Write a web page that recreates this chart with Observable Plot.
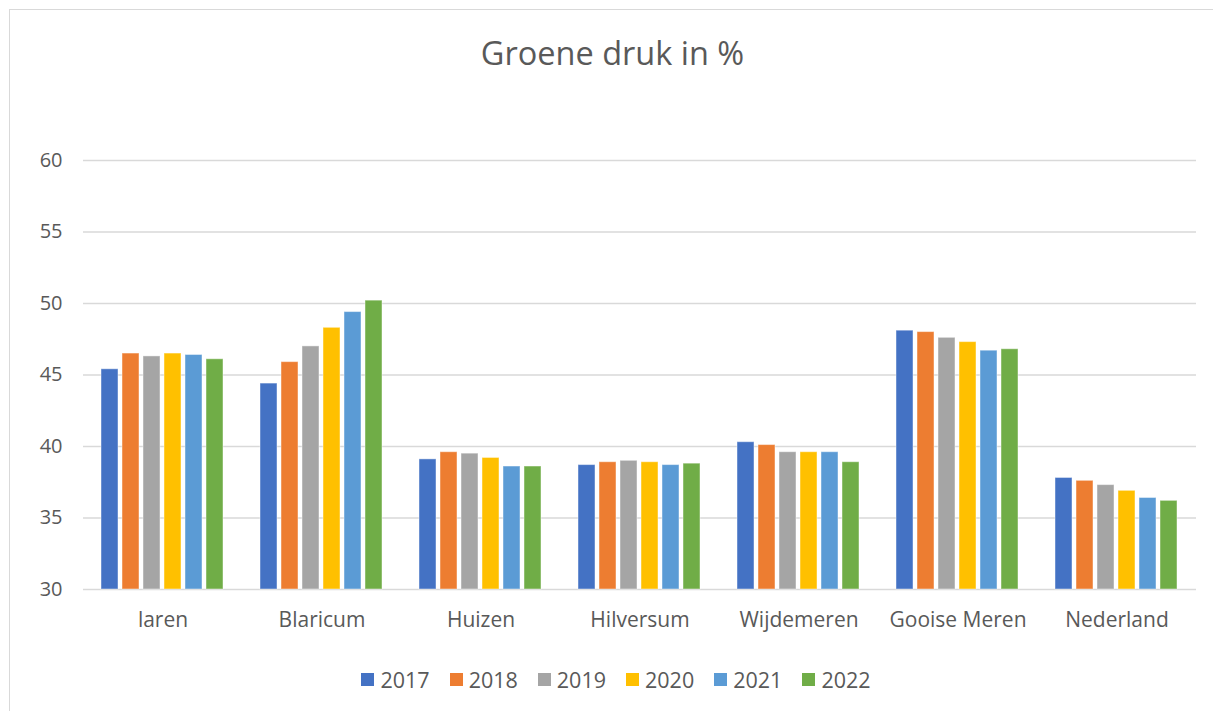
<!DOCTYPE html>
<html>
<head>
<meta charset="utf-8">
<script src="https://cdn.jsdelivr.net/npm/d3@7"></script>
<script src="https://cdn.jsdelivr.net/npm/@observablehq/plot@0.6"></script>
<style>
  html, body { margin: 0; padding: 0; background: #fff; }
  body { width: 1213px; height: 711px; position: relative; overflow: hidden; font-family: "Open Sans", sans-serif; color: #595959; }
  #frame { position: absolute; left: 9px; top: 9px; width: 1210px; height: 710px; border: 1px solid #d9d9d9; box-sizing: border-box; }
  #title { position: absolute; left: 0; width: 1225px; top: 30px; text-align: center; font-size: 32.5px; color: #595959; }
  #chart { position: absolute; left: 0; top: 120px; }
  #legend { position: absolute; left: 0; width: 1232px; top: 665px; display: flex; justify-content: center; gap: 20px; font-size: 21.5px; color: #595959; }
  .item { display: flex; align-items: center; gap: 6px; }
  .sw { width: 13px; height: 13px; display: inline-block; }
</style>
</head>
<body>
<div id="frame"></div>
<div id="title">Groene druk in %</div>
<div id="chart"></div>
<div id="legend"></div>
<script>
const categories = ["laren", "Blaricum", "Huizen", "Hilversum", "Wijdemeren", "Gooise Meren", "Nederland"];
const years = ["2017", "2018", "2019", "2020", "2021", "2022"];
const colors = ["#4472C4", "#ED7D31", "#A5A5A5", "#FFC000", "#5B9BD5", "#70AD47"];
const v2017 = [45.4, 44.4, 39.1, 38.7, 40.3, 48.1, 37.8];
const v2018 = [46.5, 45.9, 39.6, 38.9, 40.1, 48.0, 37.6];
const v2019 = [46.3, 47.0, 39.5, 39.0, 39.6, 47.6, 37.3];
const v2020 = [46.5, 48.3, 39.2, 38.9, 39.6, 47.3, 36.9];
const v2021 = [46.4, 49.4, 38.6, 38.7, 39.6, 46.7, 36.4];
const v2022 = [46.1, 50.2, 38.6, 38.8, 38.9, 46.8, 36.2];
const yTicks = [30, 35, 40, 45, 50, 55, 60];

const series = [v2017, v2018, v2019, v2020, v2021, v2022];
const data = [];
categories.forEach((c, i) => {
  years.forEach((y, j) => data.push({cat: c, year: y, value: series[j][i]}));
});

const chart = Plot.plot({
  width: 1213,
  height: 540,
  marginLeft: 82,
  marginRight: 16,
  marginTop: 40,
  marginBottom: 71,
  style: {fontFamily: "'Open Sans', sans-serif", fontSize: "20px", color: "#595959", background: "transparent"},
  fx: {domain: categories, padding: 0, label: null},
  x: {domain: years, paddingInner: 0.19, paddingOuter: 0.878, axis: null},
  y: {domain: [30, 60], label: null},
  color: {domain: years, range: colors},
  marks: [
    Plot.ruleY(yTicks, {stroke: "#d9d9d9", strokeWidth: 1.5}),
    Plot.axisY(yTicks, {tickSize: 0, tickPadding: 21, label: null, fontSize: 20}),
    Plot.barY(data, {fx: "cat", x: "year", y1: 30, y2: "value", fill: "year", stroke: "white", strokeOpacity: 0.45, strokeWidth: 1}),
    Plot.axisFx({anchor: "bottom", tickSize: 0, tickPadding: 23, label: null, fontSize: 21})
  ]
});
document.getElementById("chart").appendChild(chart);

const legend = document.getElementById("legend");
years.forEach((y, i) => {
  const it = document.createElement("div");
  it.className = "item";
  const sw = document.createElement("span");
  sw.className = "sw";
  sw.style.background = colors[i];
  const t = document.createElement("span");
  t.textContent = y;
  it.appendChild(sw);
  it.appendChild(t);
  legend.appendChild(it);
});
</script>
</body>
</html>
